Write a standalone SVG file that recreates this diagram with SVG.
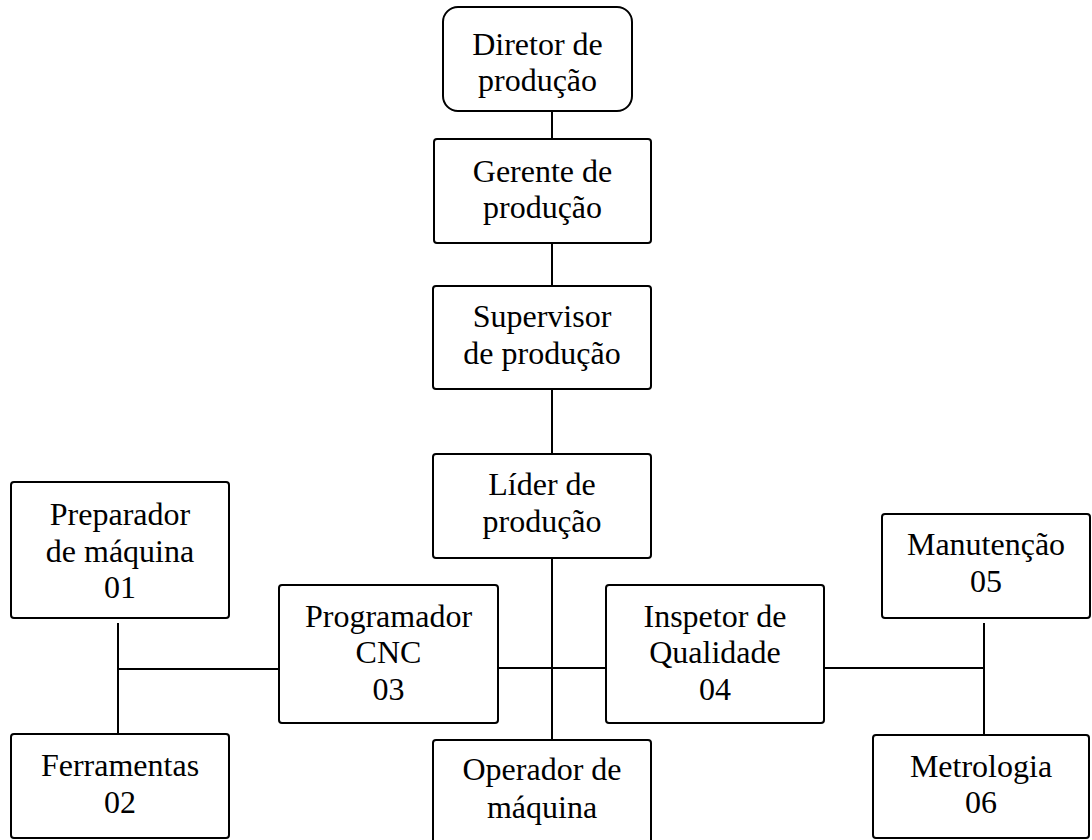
<svg xmlns="http://www.w3.org/2000/svg" width="1092" height="840" viewBox="0 0 1092 840">
<style>
.box{fill:#fff;stroke:#000;stroke-width:2}
.t{font-family:"Liberation Serif","Times New Roman",serif;font-size:32px;fill:#000;text-anchor:middle}
.c{stroke:#000;stroke-width:2;fill:none}
</style>
<rect width="1092" height="840" fill="#fff"/>
<g id="connectors">
<line class="c" x1="552" y1="111" x2="552" y2="139"/>
<line class="c" x1="552" y1="243" x2="552" y2="286"/>
<line class="c" x1="552" y1="389" x2="552" y2="454"/>
<line class="c" x1="552" y1="558" x2="552" y2="740"/>
<line class="c" x1="498" y1="668" x2="606" y2="668"/>
<line class="c" x1="118" y1="623" x2="118" y2="734"/>
<line class="c" x1="118" y1="669" x2="279" y2="669"/>
<line class="c" x1="824" y1="668" x2="984" y2="668"/>
<line class="c" x1="984" y1="623" x2="984" y2="735"/>
</g>
<g id="diretor">
<rect class="box" x="443" y="7" width="189" height="104" rx="15"/>
<text class="t" x="537.5" y="55">Diretor de</text>
<text class="t" x="537.5" y="91">produção</text>
</g>
<g id="gerente">
<rect class="box" x="434" y="139" width="217" height="104" rx="3"/>
<text class="t" x="542.5" y="182">Gerente de</text>
<text class="t" x="542.5" y="218">produção</text>
</g>
<g id="supervisor">
<rect class="box" x="433" y="286" width="218" height="103" rx="3"/>
<text class="t" x="542" y="327">Supervisor</text>
<text class="t" x="542" y="364">de produção</text>
</g>
<g id="lider">
<rect class="box" x="433" y="454" width="218" height="104" rx="3"/>
<text class="t" x="542" y="495">Líder de</text>
<text class="t" x="542" y="532">produção</text>
</g>
<g id="programador">
<rect class="box" x="279" y="585" width="219" height="138" rx="3"/>
<text class="t" x="388.5" y="627">Programador</text>
<text class="t" x="388.5" y="663">CNC</text>
<text class="t" x="388.5" y="700">03</text>
</g>
<g id="inspetor">
<rect class="box" x="606" y="585" width="218" height="138" rx="3"/>
<text class="t" x="715" y="627">Inspetor de</text>
<text class="t" x="715" y="663">Qualidade</text>
<text class="t" x="715" y="700">04</text>
</g>
<g id="operador">
<rect class="box" x="433" y="740" width="218" height="110" rx="3"/>
<text class="t" x="542" y="780">Operador de</text>
<text class="t" x="542" y="818">máquina</text>
</g>
<g id="preparador">
<rect class="box" x="11" y="482" width="218" height="136" rx="3"/>
<text class="t" x="120" y="525">Preparador</text>
<text class="t" x="120" y="562">de máquina</text>
<text class="t" x="120" y="598">01</text>
</g>
<g id="ferramentas">
<rect class="box" x="11" y="734" width="218" height="104" rx="3"/>
<text class="t" x="120" y="776">Ferramentas</text>
<text class="t" x="120" y="813">02</text>
</g>
<g id="manutencao">
<rect class="box" x="882" y="514" width="208" height="104" rx="3"/>
<text class="t" x="986" y="555">Manutenção</text>
<text class="t" x="986" y="592">05</text>
</g>
<g id="metrologia">
<rect class="box" x="873" y="735" width="216" height="103" rx="3"/>
<text class="t" x="981" y="777">Metrologia</text>
<text class="t" x="981" y="813">06</text>
</g>
</svg>
